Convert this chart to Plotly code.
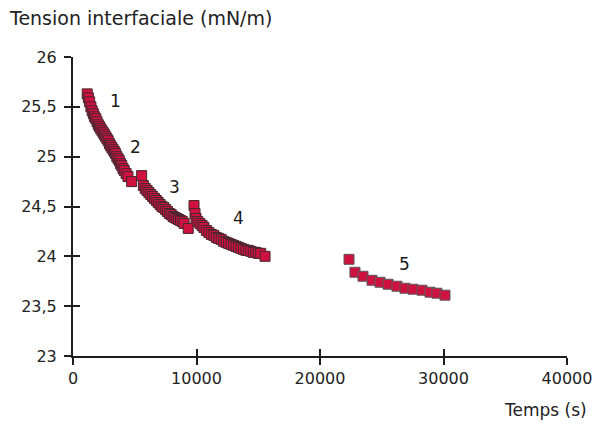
import plotly.graph_objects as go

# Time (s) and interfacial tension (mN/m)
temps_a = [1150, 1250, 1350, 1450, 1550, 1650, 1750, 1850, 1950, 2050,
           2150, 2250, 2350, 2450, 2550, 2650, 2750, 2850, 2950, 3050,
           3150, 3250, 3350, 3450, 3550, 3650, 3750, 3850, 3950, 4050,
           4150, 4300, 4450, 4750, 5560, 5700, 5850, 6000, 6150, 6300,
           6450, 6600, 6750, 6900, 7050, 7200, 7350, 7500, 7650, 7800,
           7950, 8100, 8250, 8400, 8550, 8700, 8850, 9000, 9330, 9800,
           9880, 9960, 10100, 10280, 10450, 10600, 10800, 11000, 11200, 11400,
           11600, 11800, 12000, 12200, 12400, 12600, 12800, 13000, 13200, 13400,
           13600, 13800, 14000, 14200, 14400, 14600, 14800, 15000, 15200, 15550]
tension_a = [25.63, 25.59, 25.55, 25.50, 25.46, 25.43, 25.40, 25.38, 25.35, 25.32,
             25.30, 25.28, 25.26, 25.24, 25.22, 25.20, 25.18, 25.16, 25.13, 25.11,
             25.09, 25.07, 25.05, 25.03, 25.00, 24.98, 24.96, 24.93, 24.91, 24.88,
             24.86, 24.83, 24.80, 24.75, 24.81, 24.71, 24.68, 24.66, 24.64, 24.62,
             24.60, 24.58, 24.56, 24.54, 24.52, 24.50, 24.49, 24.47, 24.45, 24.43,
             24.42, 24.40, 24.39, 24.38, 24.37, 24.36, 24.35, 24.33, 24.28, 24.51,
             24.43, 24.38, 24.35, 24.33, 24.31, 24.29, 24.26, 24.24, 24.22, 24.21,
             24.19, 24.18, 24.17, 24.15, 24.14, 24.13, 24.12, 24.11, 24.10, 24.09,
             24.08, 24.07, 24.06, 24.06, 24.05, 24.04, 24.04, 24.03, 24.03, 24.00]

temps_b = [22350, 22830, 23480, 24210, 24860, 25510, 26230, 26880, 27530, 28260,
           28910, 29470, 30120]
tension_b = [23.97, 23.84, 23.80, 23.76, 23.74, 23.72, 23.70, 23.68, 23.67, 23.66,
             23.64, 23.63, 23.61]

# Stage labels
etiquettes = ["1", "2", "3", "4", "5"]
etiq_x = [3480, 5100, 8180, 13360, 26880]
etiq_y = [25.56, 25.10, 24.70, 24.38, 23.92]

x_ticks = [0, 10000, 20000, 30000, 40000]
y_ticks = [23, 23.5, 24, 24.5, 25, 25.5, 26]
y_ticktext = ["23", "23,5", "24", "24,5", "25", "25,5", "26"]

FONT = "DejaVu Sans"
AX = "#1e1e1e"
marker = dict(symbol="square", size=10, color="#cf1140",
              line=dict(color="#45292f", width=1))

fig = go.Figure()
fig.add_trace(go.Scatter(x=temps_a, y=tension_a, mode="markers", marker=marker,
                         showlegend=False, hoverinfo="x+y"))
fig.add_trace(go.Scatter(x=temps_b, y=tension_b, mode="markers",
                         marker=dict(symbol="square", size=10, color="#cf1140",
                                     line=dict(color="#5a5a5a", width=1)),
                         showlegend=False))
# invisible trace on overlay axes (for inside tick halves)
fig.add_trace(go.Scatter(x=[None], y=[None], xaxis="x2", yaxis="y2",
                         showlegend=False, hoverinfo="skip"))

for t, xx, yy in zip(etiquettes, etiq_x, etiq_y):
    fig.add_annotation(x=xx, y=yy, text=t, showarrow=False,
                       font=dict(family=FONT, size=17, color="#1a1a1a"))

fig.add_annotation(xref="paper", yref="paper", x=1 + 22 / 494, y=-0.182,
                   xanchor="right", yanchor="middle", text="Temps (s)",
                   showarrow=False, font=dict(family=FONT, size=17, color="#222"))

fig.update_layout(
    width=596, height=425,
    margin=dict(l=73, r=29, t=57, b=69),
    paper_bgcolor="white", plot_bgcolor="white",
    title=dict(text="Tension interfaciale (mN/m)", x=10 / 596, xanchor="left",
               y=1 - 18 / 425, yanchor="middle", automargin=False,
               font=dict(family=FONT, size=19, color="#222")),
    xaxis=dict(range=[0, 40000], tickvals=x_ticks, ticktext=[str(v) for v in x_ticks],
               automargin=False,
               showgrid=False, zeroline=False, showline=True, linecolor=AX, linewidth=2,
               ticks="outside", ticklen=7, tickwidth=2, tickcolor=AX,
               tickfont=dict(family=FONT, size=16, color="#222")),
    yaxis=dict(range=[23, 26], tickvals=y_ticks, ticktext=y_ticktext,
               automargin=False,
               showgrid=False, zeroline=False, showline=True, linecolor=AX, linewidth=2,
               ticks="outside", ticklen=7, tickwidth=2, tickcolor=AX,
               ticklabelstandoff=4,
               tickfont=dict(family=FONT, size=16, color="#222")),
    xaxis2=dict(range=[0, 40000], overlaying="x", anchor="y2", tickvals=x_ticks,
                automargin=False,
                showticklabels=False, showgrid=False, zeroline=False, showline=False,
                ticks="inside", ticklen=7, tickwidth=2, tickcolor=AX),
    yaxis2=dict(range=[23, 26], overlaying="y", anchor="x2", tickvals=y_ticks,
                automargin=False,
                showticklabels=False, showgrid=False, zeroline=False, showline=False,
                ticks="inside", ticklen=7, tickwidth=2, tickcolor=AX),
)

fig.write_html("out.html")
